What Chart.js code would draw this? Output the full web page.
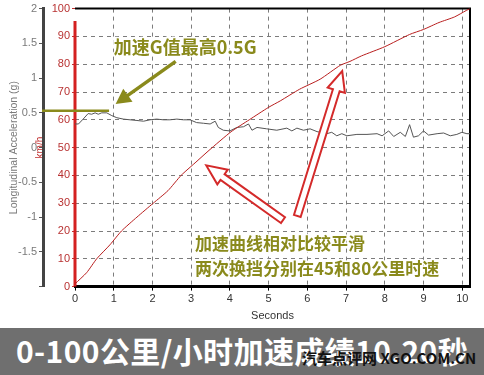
<!DOCTYPE html>
<html>
<head>
<meta charset="utf-8">
<script src="https://cdn.jsdelivr.net/npm/chart.js@4.4.0/dist/chart.umd.min.js"></script>
<style>
  body { margin: 0; background: #fff; width: 484px; height: 375px; overflow: hidden; position: relative; font-family: "Noto Sans CJK SC", sans-serif; }
  #wrap { position: absolute; left: 0; top: 0; width: 484px; height: 323px; }
  #banner { position: absolute; left: 0; top: 328px; width: 484px; height: 47px; background: #6f6f6f; }
  #title { position: absolute; left: 16px; top: 2px; color: #fff; font-weight: bold; font-size: 30px; letter-spacing: 0.4px; line-height: 40px; white-space: nowrap; }
  #mark { position: absolute; left: 302px; top: 20px; color: #111; font-weight: bold; font-size: 15px; line-height: 19px; white-space: nowrap; }
</style>
</head>
<body>
<div id="wrap"><canvas id="c"></canvas></div>
<div id="banner">
  <div id="title">0-100公里/小时加速成绩10.20秒</div>
  <div id="mark">汽车点评网 XGO.COM.CN</div>
</div>
<script>
// 车速曲线 (km/h)
const speedTime = [0, 0.3, 0.56, 0.9, 1.2, 1.6, 2.02, 2.4, 2.74, 3.1, 3.46, 4.03, 4.5, 5.0, 5.3, 5.8, 6.33, 6.85, 7.1, 7.4, 8.0, 8.64, 9.0, 9.4, 9.8, 10.1, 10.2];
const speedValues = [1, 5, 10, 15, 20, 25, 30, 34.5, 40, 44.5, 49, 55.7, 60, 64.5, 66.8, 71, 74.6, 79.6, 81, 83, 86.3, 90.7, 92.5, 95, 97, 99.3, 100];

// 纵向加速度 (g)
const accelTime = [0, 0.09, 0.21, 0.34, 0.43, 0.52, 0.6, 0.69, 0.82, 0.95, 1.08, 1.25, 1.42, 1.6, 1.77, 1.94, 2.11, 2.28, 2.45, 2.63, 2.8, 2.97, 3.14, 3.32, 3.49, 3.62, 3.7, 3.83, 4.0, 4.18, 4.35, 4.48, 4.57, 4.7, 4.95, 5.21, 5.47, 5.6, 5.73, 5.9, 6.07, 6.25, 6.5, 6.63, 6.76, 6.89, 7.02, 7.28, 7.54, 7.8, 7.93, 8.1, 8.23, 8.4, 8.53, 8.64, 8.74, 8.87, 9.0, 9.13, 9.35, 9.52, 9.69, 9.86, 9.99, 10.12, 10.2];
const accelValues = [0.34, 0.34, 0.41, 0.49, 0.48, 0.50, 0.48, 0.50, 0.50, 0.46, 0.43, 0.41, 0.40, 0.39, 0.38, 0.40, 0.41, 0.40, 0.40, 0.41, 0.40, 0.40, 0.36, 0.35, 0.34, 0.38, 0.29, 0.25, 0.24, 0.29, 0.30, 0.34, 0.25, 0.29, 0.27, 0.25, 0.28, 0.24, 0.28, 0.25, 0.27, 0.23, 0.20, 0.22, 0.17, 0.20, 0.17, 0.19, 0.19, 0.20, 0.17, 0.24, 0.16, 0.22, 0.16, 0.33, 0.15, 0.17, 0.24, 0.18, 0.20, 0.21, 0.17, 0.19, 0.22, 0.20, 0.20];

const secondTicks = [0, 1, 2, 3, 4, 5, 6, 7, 8, 9, 10];
const kmTicks = [0, 10, 20, 30, 40, 50, 60, 70, 80, 90, 100];
const gTicks = [2, 1.5, 1, 0.5, 0, -0.5, -1, -1.5];

const olive = '#8a8a1c';
const arrowRed = '#d42a2a';
const gridDash = [4, 4];
const gridColor = '#7c7c7c';

function hollowArrow(ctx, x0, y0, x1, y1, shaft, head, headLen) {
    const ang = Math.atan2(y1 - y0, x1 - x0);
    const len = Math.hypot(x1 - x0, y1 - y0);
    ctx.save();
    ctx.translate(x0, y0);
    ctx.rotate(ang);
    ctx.beginPath();
    ctx.moveTo(0, -shaft);
    ctx.lineTo(len - headLen, -shaft);
    ctx.lineTo(len - headLen, -head);
    ctx.lineTo(len, 0);
    ctx.lineTo(len - headLen, head);
    ctx.lineTo(len - headLen, shaft);
    ctx.lineTo(0, shaft);
    ctx.closePath();
    ctx.fillStyle = '#fff';
    ctx.fill();
    ctx.strokeStyle = arrowRed;
    ctx.lineWidth = 2;
    ctx.stroke();
    ctx.restore();
}

function solidArrow(ctx, x0, y0, x1, y1, width, head, headLen) {
    const ang = Math.atan2(y1 - y0, x1 - x0);
    const len = Math.hypot(x1 - x0, y1 - y0);
    ctx.save();
    ctx.translate(x0, y0);
    ctx.rotate(ang);
    ctx.fillStyle = olive;
    ctx.fillRect(0, -width / 2, len - headLen + 1, width);
    ctx.beginPath();
    ctx.moveTo(len - headLen, -head);
    ctx.lineTo(len, 0);
    ctx.lineTo(len - headLen, head);
    ctx.closePath();
    ctx.fill();
    ctx.restore();
}

function haloText(ctx, text, x, y) {
    ctx.lineWidth = 3;
    ctx.strokeStyle = 'rgba(255,255,255,0.9)';
    ctx.strokeText(text, x, y);
    ctx.fillStyle = olive;
    ctx.fillText(text, x, y);
}

// 边框和标注
const notes = {
    id: 'notes',
    beforeDatasetsDraw(chart) {
        const {ctx, chartArea: a, scales: {y}} = chart;
        ctx.save();
        ctx.strokeStyle = '#000';
        ctx.lineWidth = 2;
        ctx.beginPath();
        ctx.moveTo(a.left, a.top);
        ctx.lineTo(a.right, a.top);
        ctx.lineTo(a.right, a.bottom);
        ctx.stroke();
        // 车速轴红线
        ctx.strokeStyle = '#d42020';
        ctx.lineWidth = 3;
        ctx.beginPath();
        ctx.moveTo(a.left, y.getPixelForValue(95.5));
        ctx.lineTo(a.left, a.bottom);
        ctx.stroke();
        ctx.restore();
    },
    afterDatasetsDraw(chart) {
        const {ctx, scales: {x, y, g}} = chart;
        const px = v => x.getPixelForValue(v);
        const py = v => y.getPixelForValue(v);
        ctx.save();
        // 最高G值线
        ctx.strokeStyle = olive;
        ctx.lineWidth = 2.5;
        ctx.beginPath();
        ctx.moveTo(g.right - 1, g.getPixelForValue(0.53));
        ctx.lineTo(px(0.88), g.getPixelForValue(0.53));
        ctx.stroke();

        solidArrow(ctx, px(2.6), py(81), px(1.05), py(65.7), 3.5, 8, 15);
        hollowArrow(ctx, px(5.37), py(23.9), px(3.39), py(43.6), 3.5, 9, 20);
        hollowArrow(ctx, px(5.74), py(25.4), px(6.9), py(77.5), 3.5, 9, 20);

        ctx.textBaseline = 'middle';
        ctx.textAlign = 'left';
        ctx.font = 'bold 18px "Noto Sans CJK SC"';
        haloText(ctx, '加速G值最高0.5G', px(1.0), py(86));
        ctx.font = 'bold 17px "Noto Sans CJK SC"';
        haloText(ctx, '加速曲线相对比较平滑', px(3.1), py(15.4));
        haloText(ctx, '两次换挡分别在45和80公里时速', px(3.1), py(6.4));
        ctx.restore();
    }
};

const ctx = document.getElementById('c').getContext('2d');
new Chart(ctx, {
    type: 'line',
    data: {
        datasets: [{
            label: 'km/h',
            data: speedTime.map((t, i) => ({x: t, y: speedValues[i]})),
            yAxisID: 'y',
            borderColor: '#b81e1e',
            borderWidth: 1,
            pointRadius: 0,
            tension: 0.2
        }, {
            label: 'g',
            data: accelTime.map((t, i) => ({x: t, y: accelValues[i]})),
            yAxisID: 'g',
            borderColor: '#555',
            borderWidth: 1,
            pointRadius: 0,
            tension: 0
        }]
    },
    options: {
        responsive: true,
        maintainAspectRatio: false,
        animation: false,
        layout: { padding: { top: 7, right: 14, left: 0, bottom: 0 } },
        plugins: { legend: { display: false }, tooltip: { enabled: false } },
        scales: {
            x: {
                type: 'linear',
                min: 0,
                max: 10.2,
                afterBuildTicks: s => { s.ticks = secondTicks.map(v => ({value: v})); },
                ticks: { font: { family: 'Liberation Sans', size: 11 }, color: '#333', padding: 2, maxRotation: 0 },
                grid: {
                    color: c => (c.tick && c.tick.value === 0) ? 'rgba(0,0,0,0)' : gridColor,
                    borderDash: gridDash,
                    tickColor: '#000',
                    tickLength: 4
                },
                border: { color: '#000', width: 3, dash: gridDash },
                title: { display: true, text: 'Seconds', font: { family: 'Liberation Sans', size: 11 }, color: '#333', padding: { top: 2, bottom: 0 } }
            },
            g: {
                type: 'linear',
                position: 'left',
                weight: 1,
                min: -2,
                max: 2,
                afterBuildTicks: s => { s.ticks = gTicks.concat([-2]).map(v => ({value: v})); },
                afterFit: s => { s.width = 43; },
                ticks: {
                    font: { family: 'Liberation Sans', size: 11 },
                    color: '#7a7a7a',
                    padding: 2,
                    callback: v => gTicks.includes(v) ? String(v) : ''
                },
                grid: { drawOnChartArea: false, tickLength: 4, tickColor: '#555' },
                border: { color: '#444', width: 3 },
                title: { display: true, text: 'Longitudinal Acceleration (g)', font: { family: 'Liberation Sans', size: 10.5 }, color: '#7a7a7a', padding: { top: 8, bottom: 0 } }
            },
            y: {
                type: 'linear',
                position: 'left',
                weight: 0,
                min: 0,
                max: 100,
                afterBuildTicks: s => { s.ticks = kmTicks.map(v => ({value: v})); },
                afterFit: s => { s.width = 32; },
                ticks: { font: { family: 'Liberation Sans', size: 11 }, color: '#b83232', padding: 2 },
                grid: {
                    color: c => (c.tick && (c.tick.value === 0 || c.tick.value === 100)) ? 'rgba(0,0,0,0)' : gridColor,
                    borderDash: gridDash,
                    tickColor: '#c03030',
                    tickLength: 3
                },
                border: { display: false, dash: gridDash },
                title: { display: true, text: 'km/h', font: { family: 'Liberation Sans', size: 10 }, color: '#c03030', padding: { top: -9, bottom: 0 } }
            }
        }
    },
    plugins: [notes]
});
</script>
</body>
</html>
